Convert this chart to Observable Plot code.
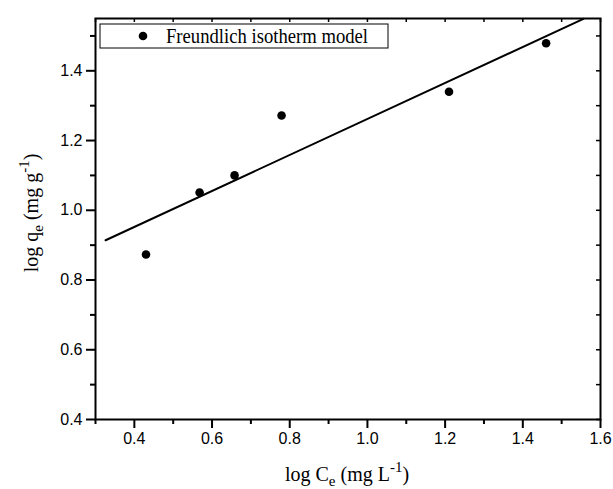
<!DOCTYPE html>
<html><head><meta charset="utf-8">
<script src="https://cdn.jsdelivr.net/npm/d3@7"></script>
<script src="https://cdn.jsdelivr.net/npm/@observablehq/plot@0.6"></script>
<style>
body{margin:0;background:#fff}
#chart{position:relative;width:613px;height:489px}
</style>
</head><body><div id="chart"></div>
<script>
// Experimental data (log Ce, log qe)
const logCe = [0.430, 0.568, 0.658, 0.779, 1.210, 1.460];
const logQe = [0.873, 1.051, 1.100, 1.272, 1.340, 1.479];
// Fitted Freundlich line end points
const fitLogCe = [0.326, 1.556];
const fitLogQe = [0.914, 1.549];
// Axis domains and ticks
const xDomain = [0.3, 1.6];
const yDomain = [0.4, 1.55];
const xMajorTicks = [0.4, 0.6, 0.8, 1.0, 1.2, 1.4, 1.6];
const xMinorTicks = [0.3, 0.5, 0.7, 0.9, 1.1, 1.3, 1.5];
const yMajorTicks = [0.4, 0.6, 0.8, 1.0, 1.2, 1.4];
const yMinorTicks = [0.5, 0.7, 0.9, 1.1, 1.3, 1.5];
const legendLabel = "Freundlich isotherm model";

const pts = logCe.map((x, i) => ({x, y: logQe[i]}));
const fit = fitLogCe.map((x, i) => ({x, y: fitLogQe[i]}));
const xAll = [...xMajorTicks, ...xMinorTicks];
const yAll = [...yMajorTicks, ...yMinorTicks];
const fmt = d3.format(".1f");

const W = 613, H = 489, mL = 95, mR = 13, mT = 18, mB = 70;
const fw = W - mL - mR, fh = H - mT - mB;
// pixel lengths expressed in data units (for tick rules)
const px = (xDomain[1] - xDomain[0]) / fw;
const py = (yDomain[1] - yDomain[0]) / fh;

const tickB = (vals, len, sw) => Plot.ruleX(vals, {x: d => d, y1: yDomain[0], y2: yDomain[0] - len * py, stroke: "black", strokeWidth: sw});
const tickL = (vals, len, sw) => Plot.ruleY(vals, {y: d => d, x1: xDomain[0], x2: xDomain[0] - len * px, stroke: "black", strokeWidth: sw});
const tickT = (vals, len, sw) => Plot.ruleX(vals, {x: d => d, y1: yDomain[1], y2: yDomain[1] - len * py, stroke: "black", strokeWidth: sw});
const tickR = (vals, len, sw) => Plot.ruleY(vals, {y: d => d, x1: xDomain[1], x2: xDomain[1] - len * px, stroke: "black", strokeWidth: sw});

const plot = Plot.plot({
  width: W, height: H,
  marginLeft: mL, marginRight: mR, marginTop: mT, marginBottom: mB,
  style: {fontFamily: "'Liberation Sans', Arial, sans-serif", fontSize: "16px", color: "black", background: "white"},
  x: {domain: xDomain},
  y: {domain: yDomain},
  marks: [
    Plot.axisX(xMajorTicks, {anchor: "bottom", tickSize: 0, tickPadding: 13, tickFormat: fmt, label: null}),
    Plot.axisY(yMajorTicks, {anchor: "left", tickSize: 0, tickPadding: 13, tickFormat: fmt, label: null}),
    tickB(xMajorTicks, 9, 2),
    tickB(xMinorTicks, 5, 2),
    tickL(yMajorTicks, 9, 2),
    tickL(yMinorTicks, 5, 2),
    tickT(xAll, 4, 1.5),
    tickR(yAll, 4, 1.5),
    Plot.line(fit, {x: "x", y: "y", stroke: "black", strokeWidth: 2}),
    Plot.dot(pts, {x: "x", y: "y", r: 4.3, fill: "black", stroke: "none"}),
    Plot.frame({stroke: "black", strokeWidth: 2})
  ]
});
document.getElementById("chart").appendChild(plot);

const svg = d3.select(plot);
const serif = "'Liberation Serif', 'Times New Roman', serif";

// Legend
const lg = svg.append("g");
lg.append("rect").attr("x", 100).attr("y", 24).attr("width", 288).attr("height", 24)
  .attr("fill", "white").attr("stroke", "black").attr("stroke-width", 1);
lg.append("circle").attr("cx", 143).attr("cy", 36).attr("r", 4.3).attr("fill", "black");
lg.append("text").attr("x", 166).attr("y", 43).attr("font-family", serif).attr("font-size", 21)
  .attr("text-anchor", "start")
  .attr("textLength", 202).attr("lengthAdjust", "spacingAndGlyphs").attr("fill", "black").text(legendLabel);

function title(g, base, sub, unit, sup) {
  const t = g.append("text").attr("font-family", serif).attr("font-size", 20)
    .attr("text-anchor", "middle").attr("fill", "black");
  t.append("tspan").text(base);
  t.append("tspan").attr("dy", 5).attr("font-size", 15).text(sub);
  t.append("tspan").attr("dy", -5).text(unit);
  t.append("tspan").attr("dy", -9).attr("font-size", 15).text(sup);
  t.append("tspan").attr("dy", 9).text(")");
  return t;
}
title(svg.append("g").attr("transform", "translate(347,481)"), "log C", "e", " (mg L", "-1");
title(svg.append("g").attr("transform", "translate(38,213) rotate(-90)"), "log q", "e", " (mg g", "-1");
</script>
</body></html>
